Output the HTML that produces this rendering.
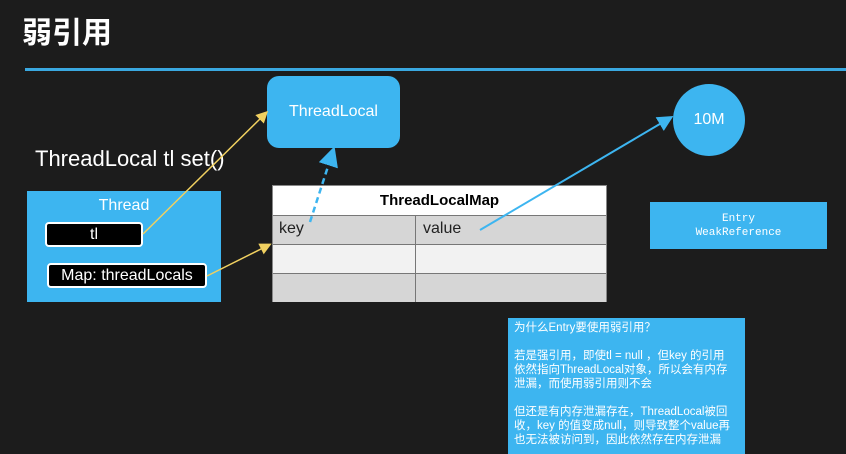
<!DOCTYPE html>
<html><head><meta charset="utf-8"><style>
body{margin:0;width:846px;height:454px;background:#1c1c1c;overflow:hidden;position:relative;font-family:"Liberation Sans","Noto Sans CJK SC",sans-serif;}
.a{position:absolute;box-sizing:border-box;}
.blue{background:#3db5f0;}
</style></head><body>
<div class="a" style="left:22px;top:8px;font-size:30px;color:#fff;font-weight:bold;font-family:'Noto Sans CJK SC',sans-serif;">弱引用</div>
<div class="a" style="left:25px;top:68px;width:821px;height:3px;background:#3aa8e0;"></div>

<div class="a" style="left:35px;top:146px;font-size:22px;color:#fff;">ThreadLocal tl set()</div>

<div class="a blue" style="left:27px;top:191px;width:194px;height:111px;"></div>
<div class="a" style="left:27px;top:197px;width:194px;text-align:center;color:#fff;font-size:16px;">Thread</div>
<div class="a" style="left:45px;top:222px;width:98px;height:25px;background:#000;border:2px solid #fff;border-radius:4px;color:#fff;text-align:center;font-size:16px;line-height:21px;">tl</div>
<div class="a" style="left:47px;top:263px;width:160px;height:25px;background:#000;border:2px solid #fff;border-radius:4px;color:#fff;text-align:center;font-size:16px;line-height:21px;">Map: threadLocals</div>

<div class="a blue" style="left:267px;top:76px;width:133px;height:72px;border-radius:12px;color:#fff;text-align:center;line-height:72px;font-size:16px;">ThreadLocal</div>

<div class="a" style="left:272px;top:185px;width:335px;height:117px;background:#fff;border:1px solid #888;">
<div class="a" style="left:0;top:0;width:333px;height:29px;text-align:center;font-weight:bold;font-size:15px;line-height:29px;color:#000;">ThreadLocalMap</div>
<div class="a" style="left:0;top:29px;width:333px;height:29px;background:#d6d6d6;border-top:1px solid #777;"></div>
<div class="a" style="left:0;top:58px;width:333px;height:29px;background:#f2f2f2;border-top:1px solid #777;"></div>
<div class="a" style="left:0;top:87px;width:333px;height:29px;background:#d6d6d6;border-top:1px solid #777;"></div>
<div class="a" style="left:142px;top:29px;width:1px;height:87px;background:#777;"></div>
<div class="a" style="left:6px;top:34px;font-size:16px;color:#222;">key</div>
<div class="a" style="left:150px;top:34px;font-size:16px;color:#222;">value</div>
</div>

<div class="a blue" style="left:673px;top:84px;width:72px;height:72px;border-radius:50%;color:#fff;text-align:center;line-height:72px;font-size:16px;">10M</div>

<div class="a blue" style="left:650px;top:202px;width:177px;height:47px;color:#fff;text-align:center;font-family:'Liberation Mono',monospace;font-size:11px;padding-top:10px;line-height:14px;">Entry<br>WeakReference</div>

<div class="a blue" style="left:508px;top:318px;width:237px;height:136px;color:#fff;font-size:11.5px;line-height:14px;padding:3px 6px;white-space:nowrap;overflow:hidden;">为什么Entry要使用弱引用？<br><br>若是强引用，即使tl = null ，但key 的引用<br>依然指向ThreadLocal对象，所以会有内存<br>泄漏，而使用弱引用则不会<br><br>但还是有内存泄漏存在，ThreadLocal被回<br>收，key 的值变成null，则导致整个value再<br>也无法被访问到，因此依然存在内存泄漏</div>

<svg class="a" style="left:0;top:0" width="846" height="454">
<defs>
<marker id="y" markerWidth="8" markerHeight="8" refX="6" refY="4" orient="auto"><path d="M0,0L8,4L0,8z" fill="#f0d060"/></marker>
<marker id="b" markerWidth="8" markerHeight="8" refX="6" refY="4" orient="auto"><path d="M0,0L8,4L0,8z" fill="#3db5f0"/></marker>
</defs>
<line x1="143" y1="234" x2="266" y2="113" stroke="#f0d060" stroke-width="1.5" marker-end="url(#y)"/>
<line x1="207" y1="276" x2="269" y2="245" stroke="#f0d060" stroke-width="1.5" marker-end="url(#y)"/>
<line x1="310" y1="222" x2="333" y2="151" stroke="#3db5f0" stroke-width="2.5" stroke-dasharray="6,4" marker-end="url(#b)"/>
<line x1="480" y1="230" x2="670" y2="118" stroke="#3db5f0" stroke-width="2" marker-end="url(#b)"/>
</svg>
</body></html>
